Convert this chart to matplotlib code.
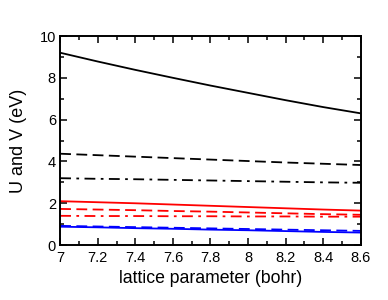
import matplotlib
matplotlib.use("Agg")
import matplotlib.pyplot as plt
from matplotlib.ticker import MultipleLocator

plt.rcParams["font.family"] = ["Liberation Sans", "DejaVu Sans"]

# lattice parameter (bohr)
lattice = [7.0, 7.2, 7.4, 7.6, 7.8, 8.0, 8.2, 8.4, 8.6]

# black curves
u_black = [9.2, 8.78, 8.38, 8.0, 7.63, 7.28, 6.93, 6.6, 6.3]
v1_black = [4.37, 4.3, 4.23, 4.16, 4.09, 4.02, 3.95, 3.89, 3.83]
v2_black = [3.2, 3.17, 3.15, 3.12, 3.09, 3.06, 3.03, 3.0, 2.98]

# red curves
u_red = [2.1, 2.05, 2.0, 1.94, 1.88, 1.82, 1.76, 1.7, 1.65]
v1_red = [1.73, 1.7, 1.67, 1.63, 1.6, 1.56, 1.52, 1.48, 1.45]
v2_red = [1.4, 1.39, 1.39, 1.38, 1.38, 1.37, 1.37, 1.36, 1.36]

# blue curves
u_blue = [0.88, 0.85, 0.81, 0.78, 0.74, 0.71, 0.67, 0.63, 0.6]
v_blue = [0.92, 0.89, 0.86, 0.83, 0.8, 0.77, 0.74, 0.71, 0.68]

fig = plt.figure(figsize=(3.88, 3.0), dpi=100)
ax = fig.add_axes([0.155, 0.183, 0.775, 0.697])

ax.plot(lattice, u_black, color="black", lw=1.3)
ax.plot(lattice, v1_black, color="black", lw=1.3, dashes=(6, 3))
ax.plot(lattice, v2_black, color="black", lw=1.3, dashes=(6, 3, 1.5, 3))
ax.plot(lattice, u_red, color="red", lw=1.3)
ax.plot(lattice, v1_red, color="red", lw=1.3, dashes=(6, 3))
ax.plot(lattice, v2_red, color="red", lw=1.3, dashes=(6, 3, 1.5, 3))
ax.plot(lattice, u_blue, color="blue", lw=1.3)
ax.plot(lattice, v_blue, color="blue", lw=1.3, dashes=(6, 3))

ax.set_xlim(7, 8.6)
ax.set_ylim(0, 10)
ax.xaxis.set_major_locator(MultipleLocator(0.2))
ax.xaxis.set_minor_locator(MultipleLocator(0.1))
ax.yaxis.set_major_locator(MultipleLocator(2))
ax.yaxis.set_minor_locator(MultipleLocator(1))
ax.xaxis.set_major_formatter(plt.FuncFormatter(lambda v, p: f"{v:g}"))
ax.tick_params(which="both", direction="in", top=True, right=True,
               labelsize=10.5, width=1.1)
ax.tick_params(axis="x", pad=4)
ax.tick_params(axis="y", pad=3)
ax.tick_params(which="major", length=5)
ax.tick_params(which="minor", length=3)
for s in ax.spines.values():
    s.set_linewidth(1.4)

ax.set_xlabel("lattice parameter (bohr)", fontsize=12.7, labelpad=4)
ax.set_ylabel("U and V (eV)", fontsize=13, labelpad=9)

fig.savefig("out.png", dpi=100)
